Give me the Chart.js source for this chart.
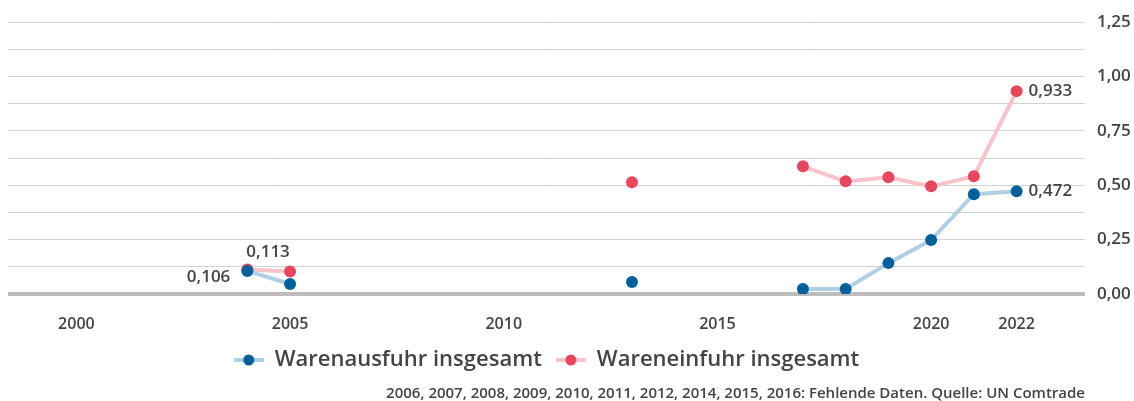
<!DOCTYPE html>
<html>
<head>
<meta charset="utf-8">
<script src="https://cdn.jsdelivr.net/npm/chart.js@4/dist/chart.umd.min.js"></script>
<style>
  html, body { margin: 0; padding: 0; background: #fff; }
  #wrap { width: 1134px; height: 401px; position: relative; }
</style>
</head>
<body>
<div id="wrap"><canvas id="grafica"></canvas></div>
<script>
// Daten (Mrd. USD), fehlende Jahre = null
const jahre = [2004, 2005, 2006, 2007, 2008, 2009, 2010, 2011, 2012, 2013, 2014, 2015, 2016, 2017, 2018, 2019, 2020, 2021, 2022];
const ausfuhr = [0.106, 0.046, null, null, null, null, null, null, null, 0.055, null, null, null, 0.023, 0.023, 0.142, 0.248, 0.459, 0.472];
const einfuhr = [0.113, 0.104, null, null, null, null, null, null, null, 0.514, null, null, null, 0.587, 0.518, 0.537, 0.495, 0.541, 0.933];
const xTicks = [2000, 2005, 2010, 2015, 2020, 2022];
const labelsAusfuhr = { 2004: 'left', 2022: 'right' };
const labelsEinfuhr = { 2004: 'top', 2022: 'right' };
const fussnote = '2006, 2007, 2008, 2009, 2010, 2011, 2012, 2014, 2015, 2016: Fehlende Daten. Quelle: UN Comtrade';

const schrift = '"Open Sans", "Noto Sans", sans-serif';
const textFarbe = '#444444';

function zuPunkten(werte) {
    return jahre.map((j, i) => ({ x: j, y: werte[i] }));
}

function fmt(v, d) {
    return v.toFixed(d).replace('.', ',');
}

// Legendensymbol: helle Linie mit dunklem Punkt
function legendenSymbol(linie, punkt) {
    const c = document.createElement('canvas');
    c.width = 30; c.height = 12;
    const ctx = c.getContext('2d');
    ctx.strokeStyle = linie;
    ctx.lineWidth = 4;
    ctx.beginPath(); ctx.moveTo(0, 6); ctx.lineTo(30, 6); ctx.stroke();
    ctx.fillStyle = punkt;
    ctx.beginPath(); ctx.arc(15, 6, 5.5, 0, Math.PI * 2); ctx.fill();
    return c;
}

// Plugin: Wertebeschriftungen und Fußnote
const beschriftung = {
    id: 'beschriftung',
    afterDatasetsDraw(chart) {
        const ctx = chart.ctx;
        ctx.save();
        ctx.fillStyle = textFarbe;
        ctx.font = '600 17px ' + schrift;
        ctx.textBaseline = 'middle';
        chart.data.datasets.forEach((ds, di) => {
            const meta = chart.getDatasetMeta(di);
            const pos = ds.wertLabels;
            meta.data.forEach((el, i) => {
                const p = ds.data[i];
                if (p.y === null || !pos[p.x]) return;
                const t = fmt(p.y, 3);
                if (pos[p.x] === 'left') {
                    ctx.textAlign = 'right';
                    ctx.fillText(t, el.x - 17, el.y + 6);
                } else if (pos[p.x] === 'right') {
                    ctx.textAlign = 'left';
                    ctx.fillText(t, el.x + 12, el.y);
                } else {
                    ctx.textAlign = 'left';
                    ctx.fillText(t, el.x - 1, el.y - 17);
                }
            });
        });
        ctx.font = '600 15px ' + schrift;
        ctx.textAlign = 'right';
        ctx.fillText(fussnote, chart.chartArea.right, 394);
        ctx.restore();
    }
};

const grafica = new Chart(document.getElementById('grafica'), {
    type: 'line',
    data: {
        datasets: [{
            label: 'Warenausfuhr insgesamt',
            data: zuPunkten(ausfuhr),
            wertLabels: labelsAusfuhr,
            borderColor: '#b0cfe2',
            backgroundColor: '#00609c',
            pointBackgroundColor: '#00609c',
            pointBorderWidth: 0,
            pointRadius: 6,
            borderWidth: 4,
            spanGaps: false,
            order: 1
        }, {
            label: 'Wareneinfuhr insgesamt',
            data: zuPunkten(einfuhr),
            wertLabels: labelsEinfuhr,
            borderColor: '#f8c3cb',
            backgroundColor: '#e8455e',
            pointBackgroundColor: '#e8455e',
            pointBorderWidth: 0,
            pointRadius: 6,
            borderWidth: 4,
            spanGaps: false,
            order: 2
        }]
    },
    options: {
        responsive: true,
        maintainAspectRatio: false,
        animation: false,
        layout: { padding: { left: 8, top: 20, right: 0, bottom: 20 } },
        plugins: {
            tooltip: { enabled: false },
            legend: {
                position: 'bottom',
                fullSize: false,
                labels: {
                    usePointStyle: true,
                    pointStyleWidth: 30,
                    color: textFarbe,
                    padding: 14,
                    font: { family: schrift, size: 22, weight: '600' },
                    generateLabels(chart) {
                        return chart.data.datasets.map((ds, i) => ({
                            text: ds.label,
                            pointStyle: legendenSymbol(ds.borderColor, ds.backgroundColor),
                            fontColor: textFarbe,
                            datasetIndex: i,
                            hidden: false,
                            lineWidth: 0
                        }));
                    }
                }
            }
        },
        scales: {
            x: {
                type: 'linear',
                min: 1998.4,
                max: 2023.6,
                grid: { display: false, drawTicks: false },
                border: { display: false },
                afterBuildTicks(ax) { ax.ticks = xTicks.map(v => ({ value: v })); },
                afterFit(ax) { ax.height = 41; },
                ticks: {
                    color: textFarbe,
                    padding: 21,
                    maxRotation: 0,
                    autoSkip: false,
                    font: { family: schrift, size: 16, weight: '600' },
                    callback: v => String(v)
                }
            },
            y: {
                position: 'right',
                min: 0,
                max: 1.25,
                border: { display: false },
                grid: {
                    drawTicks: false,
                    color: c => c.tick.value === 0 ? '#bdbdbd' : '#d2d2d2',
                    lineWidth: c => c.tick.value === 0 ? 4 : 1
                },
                afterFit(ax) { ax.width = 49; },
                ticks: {
                    stepSize: 0.125,
                    color: textFarbe,
                    padding: 12,
                    font: { family: schrift, size: 17, weight: '600' },
                    callback: v => (Math.abs(v / 0.25 - Math.round(v / 0.25)) < 1e-6 ? fmt(v, 2) : '')
                }
            }
        }
    },
    plugins: [beschriftung]
});
</script>
</body>
</html>
